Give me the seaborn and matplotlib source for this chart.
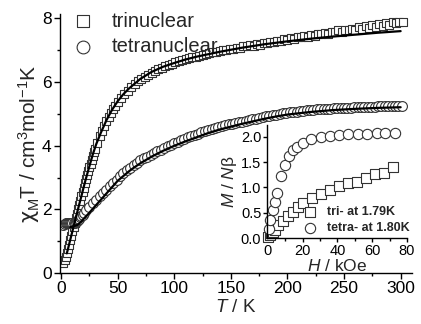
import numpy as np
import pandas as pd
import matplotlib
matplotlib.use("Agg")
import matplotlib.pyplot as plt
import seaborn as sns
from matplotlib.ticker import MultipleLocator

# ---------------- data ----------------
tri_T = [2, 3, 4, 5, 6, 7, 8, 9, 10, 11, 12, 13, 14, 15, 16, 17, 18, 19, 20,
         21, 22, 23, 24, 25, 26, 27, 28, 29, 30, 32, 34, 36, 38, 40, 42, 44, 46, 48, 50,
         53, 56, 59, 62, 65, 68, 71, 74, 77, 80, 83, 86, 89, 92, 95, 98, 101, 104, 107,
         110, 113, 116, 119, 122, 125, 128, 131, 134, 137, 140, 143, 146, 149, 152, 155,
         158, 161, 164, 167, 170, 173, 176, 179, 182, 185, 188, 191, 194, 197, 200, 203,
         206, 209, 212, 215, 218, 221, 224, 227, 230, 233, 236, 239, 242, 245, 248, 251,
         254, 257, 260, 263, 266, 269, 272, 275, 278, 281, 284, 287, 290, 293, 296, 299, 302]
tri_chiT = [0.33, 0.42, 0.52, 0.62, 0.75, 0.89, 1.03, 1.17, 1.31, 1.45, 1.59, 1.73, 1.87, 2.00, 2.14, 2.28, 2.41, 2.55, 2.68,
            2.82, 2.95, 3.08, 3.20, 3.32, 3.44, 3.56, 3.68, 3.79, 3.90, 4.10, 4.30, 4.47, 4.62, 4.77, 4.90, 5.03, 5.15, 5.26, 5.37,
            5.50, 5.62, 5.73, 5.84, 5.93, 6.02, 6.10, 6.17, 6.23, 6.29, 6.35, 6.40, 6.45, 6.50, 6.54, 6.58, 6.62, 6.65, 6.69,
            6.72, 6.75, 6.78, 6.80, 6.83, 6.86, 6.88, 6.91, 6.93, 6.95, 6.97, 7.00, 7.00, 7.04, 7.05, 7.08,
            7.07, 7.12, 7.12, 7.15, 7.14, 7.20, 7.18, 7.23, 7.22, 7.27, 7.25, 7.30, 7.29, 7.35, 7.33, 7.38,
            7.36, 7.41, 7.40, 7.45, 7.43, 7.49, 7.46, 7.52, 7.50, 7.55, 7.52, 7.58, 7.56, 7.62, 7.58, 7.65,
            7.63, 7.68, 7.64, 7.72, 7.68, 7.76, 7.70, 7.80, 7.74, 7.82, 7.76, 7.86, 7.80, 7.88, 7.84, 7.90, 7.90]

tetra_T = [2, 3, 4, 5, 6, 7, 8, 9, 10, 11, 12, 13, 14, 15, 16, 17, 18, 19, 20,
           22, 25, 28, 31, 34, 37, 40, 43, 46, 49, 52, 55, 58, 61, 64, 67, 70, 73, 76, 79,
           82, 85, 88, 91, 94, 97, 100, 103, 106, 109, 112, 115, 118, 121, 124, 127, 130,
           133, 136, 139, 142, 145, 148, 151, 154, 157, 160, 163, 166, 169, 172, 175, 178,
           181, 184, 187, 190, 193, 196, 199, 202, 205, 208, 211, 214, 217, 220, 223, 226,
           229, 232, 235, 238, 241, 244, 247, 250, 253, 256, 259, 262, 265, 268, 271, 274,
           277, 280, 283, 286, 289, 292, 295, 298, 301]
tetra_chiT = [1.52, 1.55, 1.57, 1.58, 1.58, 1.57, 1.56, 1.56, 1.56, 1.57, 1.58, 1.60, 1.63, 1.67, 1.71, 1.75, 1.79, 1.84, 1.88,
              1.97, 2.09, 2.20, 2.31, 2.41, 2.52, 2.62, 2.73, 2.83, 2.94, 3.04, 3.14, 3.23, 3.31, 3.39, 3.47, 3.54, 3.60, 3.66, 3.72,
              3.77, 3.83, 3.88, 3.93, 3.98, 4.03, 4.08, 4.13, 4.17, 4.22, 4.26, 4.30, 4.34, 4.38, 4.42, 4.46, 4.49,
              4.52, 4.56, 4.59, 4.62, 4.64, 4.67, 4.69, 4.72, 4.74, 4.76, 4.78, 4.81, 4.83, 4.85, 4.88, 4.90,
              4.92, 4.94, 4.96, 4.98, 5.00, 5.02, 5.03, 5.05, 5.06, 5.07, 5.09, 5.10, 5.11, 5.12, 5.13, 5.14,
              5.15, 5.16, 5.16, 5.17, 5.18, 5.18, 5.19, 5.19, 5.20, 5.20, 5.21, 5.21, 5.22, 5.22, 5.23, 5.23,
              5.23, 5.24, 5.24, 5.25, 5.25, 5.25, 5.26, 5.26, 5.26]

tri_fit_T = [5, 6, 8, 10, 12, 14, 16, 18, 20, 22, 25, 28, 31, 35, 40, 45, 50, 55, 60, 70, 80,
             90, 100, 110, 120, 140, 160, 180, 200, 220, 240, 260, 280, 300]
tri_fit = [0.62, 0.75, 1.04, 1.32, 1.60, 1.88, 2.16, 2.43, 2.71, 2.98, 3.36, 3.73, 4.05, 4.40, 4.80, 5.13, 5.40, 5.62, 5.80, 6.10, 6.32,
           6.48, 6.60, 6.71, 6.80, 6.95, 7.08, 7.19, 7.28, 7.36, 7.43, 7.49, 7.55, 7.60]

tetra_fit_T = [8, 10, 12, 14, 16, 18, 20, 23, 26, 30, 35, 40, 45, 50, 55, 60, 65, 70, 80, 90, 100,
               110, 120, 130, 140, 150, 160, 170, 180, 190, 200, 220, 240, 260, 280, 300]
tetra_fit = [1.45, 1.46, 1.48, 1.51, 1.56, 1.63, 1.71, 1.82, 1.94, 2.10, 2.30, 2.50, 2.70, 2.90, 3.05, 3.20, 3.33, 3.45, 3.66, 3.84, 4.00,
             4.14, 4.27, 4.40, 4.51, 4.60, 4.69, 4.77, 4.85, 4.92, 4.98, 5.06, 5.12, 5.16, 5.19, 5.21]

# magnetization (inset)
tri_H = [0.2, 1.0, 2.0, 3.0, 4.0, 6.0, 8.8, 11.7, 14.5, 17.4, 20.3, 25.1, 30.5, 35.7, 41.0, 46.2, 51.4, 56.5, 61.7, 66.8, 72.0]
tri_M = [0.03, 0.06, 0.10, 0.13, 0.16, 0.26, 0.34, 0.43, 0.52, 0.62, 0.69, 0.79, 0.87, 0.95, 1.02, 1.08, 1.11, 1.19, 1.27, 1.28, 1.41]

tetra_H = [0.5, 1.2, 3.0, 4.0, 5.0, 7.3, 9.9, 12.3, 14.7, 17.0, 20.0, 25.0, 30.3, 36.0, 41.0, 46.0, 52.0, 57.0, 62.5, 67.5, 73.0]
tetra_M = [0.18, 0.36, 0.56, 0.72, 0.89, 1.23, 1.44, 1.61, 1.74, 1.80, 1.87, 1.95, 2.00, 2.02, 2.04, 2.05, 2.06, 2.06, 2.07, 2.07, 2.07]

labels_main = ["trinuclear", "tetranuclear"]
labels_inset = ["tri- at 1.79K", "tetra- at 1.80K"]

# ---------------- style ----------------
sns.set_style("ticks")
plt.rcParams["font.family"] = ["Liberation Sans", "DejaVu Sans"]
plt.rcParams["mathtext.fontset"] = "custom"
plt.rcParams["mathtext.rm"] = "Liberation Sans"
plt.rcParams["mathtext.it"] = "Liberation Sans:italic"
plt.rcParams["mathtext.sf"] = "DejaVu Sans"
plt.rcParams["axes.edgecolor"] = "black"
plt.rcParams["xtick.color"] = "black"
plt.rcParams["ytick.color"] = "black"
plt.rcParams["axes.linewidth"] = 1.0

fig = plt.figure(figsize=(4.21, 3.24), dpi=100)
ax = fig.add_axes([0.1425, 0.157, 0.836, 0.8])

df_tri = pd.DataFrame({"T": tri_T, "chiT": tri_chiT})
df_tetra = pd.DataFrame({"T": tetra_T, "chiT": tetra_chiT})
df_trifit = pd.DataFrame({"T": tri_fit_T, "chiT": tri_fit})
df_tetrafit = pd.DataFrame({"T": tetra_fit_T, "chiT": tetra_fit})

mk = dict(facecolor="white", edgecolor="#333333", linewidth=0.8)
sns.scatterplot(data=df_tri, x="T", y="chiT", marker="s", s=40, ax=ax, label=labels_main[0], zorder=2, **mk)
sns.scatterplot(data=df_tetra, x="T", y="chiT", marker="o", s=50, ax=ax, label=labels_main[1], zorder=2, **mk)
sns.lineplot(data=df_trifit, x="T", y="chiT", color="black", lw=1.6, ax=ax, zorder=3, sort=False)
sns.lineplot(data=df_tetrafit, x="T", y="chiT", color="black", lw=1.6, ax=ax, zorder=3, sort=False)

ax.set_xlim(-1, 310)
ax.set_ylim(0, 8.14)
ax.xaxis.set_major_locator(MultipleLocator(50))
ax.xaxis.set_minor_locator(MultipleLocator(25))
ax.yaxis.set_major_locator(MultipleLocator(2))
ax.yaxis.set_minor_locator(MultipleLocator(1))
ax.tick_params(which="major", length=4, width=1, labelsize=12.5, direction="out", pad=2)
ax.tick_params(which="minor", length=2.5, width=1, direction="out")
sns.despine(ax=ax)
ax.set_xlabel("$T$ / K", fontsize=13.5, labelpad=2)
ax.set_ylabel("$\\mathsf{\\chi}_{\\rm M}$T / cm$^3$mol$^{-1}$K", fontsize=15, labelpad=0)

leg = ax.legend(loc="upper left", bbox_to_anchor=(-0.025, 1.055), frameon=False, fontsize=14.5,
                handletextpad=0.4, labelspacing=0.3, borderaxespad=0.2, markerscale=1.3)

# ---------------- inset ----------------
ins = fig.add_axes([0.634, 0.2645, 0.3325, 0.35])
ins.patch.set_alpha(0)
df_mtri = pd.DataFrame({"H": tri_H, "M": tri_M})
df_mtetra = pd.DataFrame({"H": tetra_H, "M": tetra_M})
sns.scatterplot(data=df_mtri, x="H", y="M", marker="s", s=45, ax=ins, label=labels_inset[0], clip_on=False, **mk)
sns.scatterplot(data=df_mtetra, x="H", y="M", marker="o", s=55, ax=ins, label=labels_inset[1], clip_on=False, **mk)
ins.set_xlim(-0.6, 80)
ins.set_ylim(0, 2.23)
ins.xaxis.set_major_locator(MultipleLocator(20))
ins.xaxis.set_minor_locator(MultipleLocator(10))
ins.yaxis.set_major_locator(MultipleLocator(0.5))
ins.tick_params(which="major", length=3, width=1, labelsize=10.5, direction="out", pad=1)
ins.tick_params(which="minor", length=2, width=1, direction="out")
ins.yaxis.set_major_formatter(matplotlib.ticker.FormatStrFormatter("%.1f"))
sns.despine(ax=ins)
ins.set_xlabel("$H$ / kOe", fontsize=12.5, labelpad=0)
ins.set_ylabel("$M$ / $N$β", fontsize=12.5, labelpad=1)
ins.legend(loc="lower right", bbox_to_anchor=(1.08, -0.04), frameon=False,
           prop={"weight": "bold", "size": 9}, handletextpad=0.3, labelspacing=0.3, borderaxespad=0.3)

fig.savefig("out.png", dpi=100)
